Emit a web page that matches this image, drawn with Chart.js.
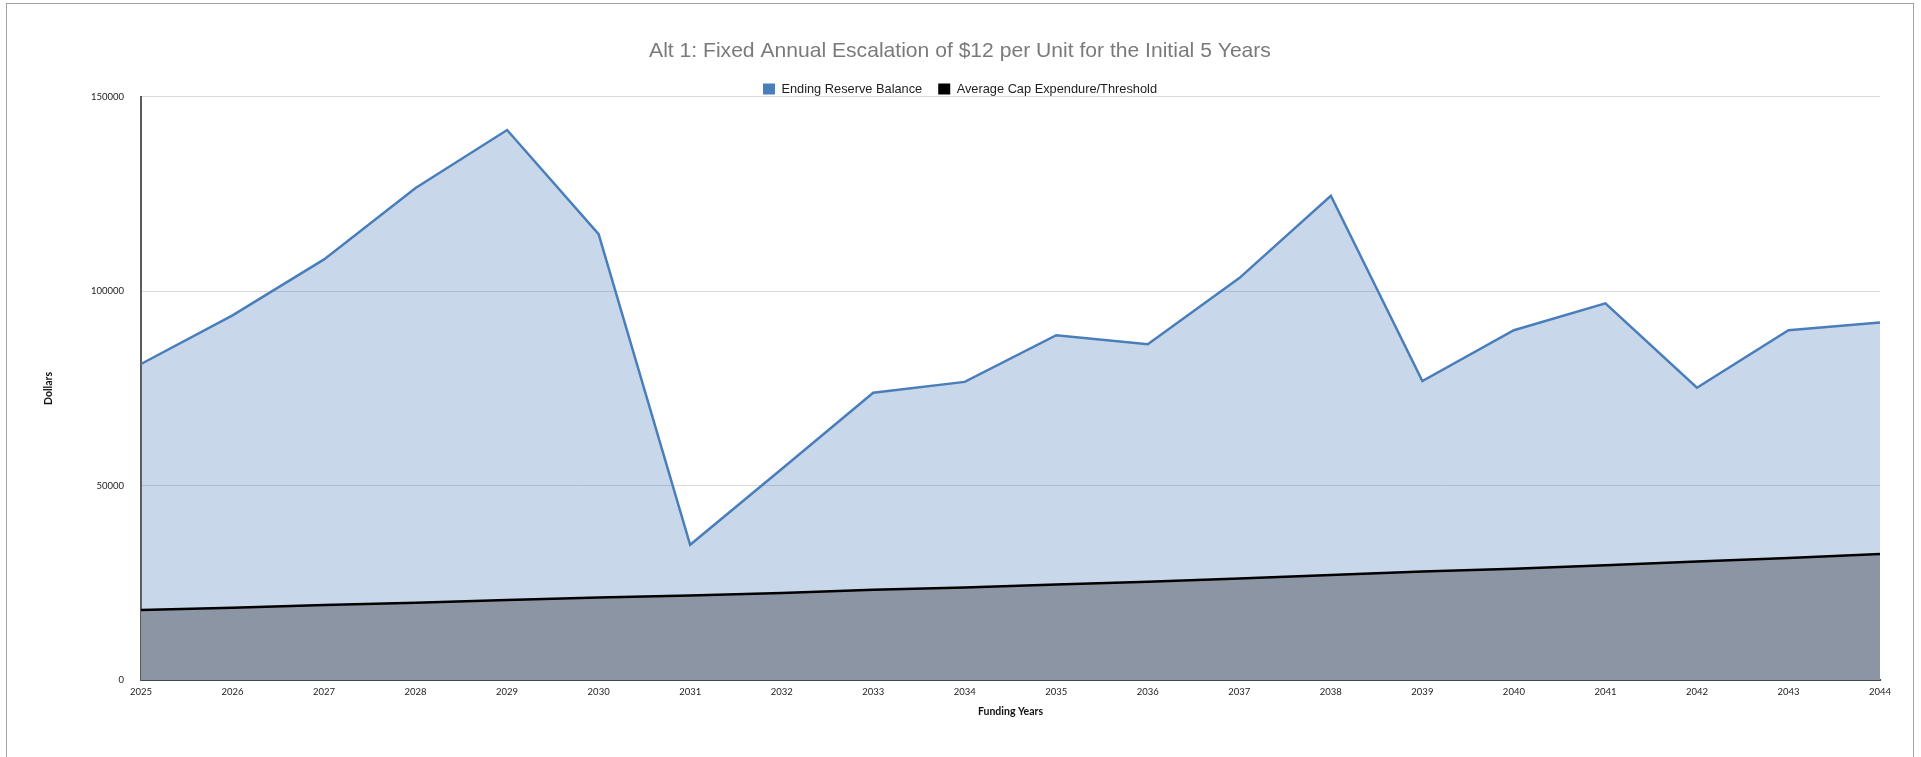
<!DOCTYPE html>
<html>
<head>
<meta charset="utf-8">
<script src="https://cdn.jsdelivr.net/npm/chart.js@4.4.1/dist/chart.umd.min.js"></script>
<style>
    html, body { margin: 0; padding: 0; background: #fff; }
    #quadro { position: absolute; left: 0; top: 0; width: 1921px; height: 757px; }
    #moldura {
        position: absolute; left: 6px; top: 3px; width: 1908px; height: 800px;
        border: 1.5px solid #a3a3a3; box-sizing: border-box;
    }
</style>
</head>
<body>
<div id="moldura"></div>
<div id="quadro"><canvas id="grafico" width="1921" height="757"></canvas></div>
<script>
    var anos = ['2025', '2026', '2027', '2028', '2029', '2030', '2031', '2032', '2033', '2034',
        '2035', '2036', '2037', '2038', '2039', '2040', '2041', '2042', '2043', '2044'];

    var saldoFinal = [81300, 93800, 108200, 126600, 141500, 114700, 34800, 54300, 73900, 76700,
        88700, 86400, 103400, 124600, 76900, 90000, 96900, 75200, 90000, 92000];

    var limiteMedio = [18000, 18600, 19300, 19900, 20600, 21200, 21750, 22400, 23200, 23800,
        24600, 25300, 26100, 27000, 27900, 28600, 29500, 30500, 31400, 32400];

    var ticksY = [0, 50000, 100000, 150000];

    var ctx = document.getElementById('grafico').getContext('2d');

    new Chart(ctx, {
        type: 'line',
        data: {
            labels: anos,
            datasets: [{
                label: 'Ending Reserve Balance',
                data: saldoFinal,
                borderColor: '#4a7ebb',
                backgroundColor: 'rgba(74, 126, 187, 0.3)',
                borderWidth: 2.5,
                fill: 'origin',
                tension: 0,
                pointRadius: 0,
                order: 1
            }, {
                label: 'Average Cap Expendure/Threshold',
                data: limiteMedio,
                borderColor: '#000000',
                backgroundColor: '#8c95a4',
                borderWidth: 2.5,
                fill: 'origin',
                tension: 0,
                pointRadius: 0,
                order: 0
            }]
        },
        options: {
            responsive: false,
            animation: false,
            devicePixelRatio: 1,
            layout: { padding: { left: 40, right: 41, top: 0, bottom: 0 } },
            plugins: {
                title: {
                    display: true,
                    text: 'Alt 1: Fixed Annual Escalation of $12 per Unit for the Initial 5 Years',
                    color: '#7a7a7a',
                    font: { family: "'Liberation Sans', Arial, sans-serif", size: 21.1, weight: 'normal' },
                    padding: { top: 38.9, bottom: 2.5 }
                },
                legend: {
                    display: true,
                    position: 'top',
                    maxHeight: 30.25,
                    labels: {
                        color: '#1e1e1e',
                        font: { family: "'Liberation Sans', Arial, sans-serif", size: 12.8 },
                        boxWidth: 12,
                        boxHeight: 11,
                        padding: 16,
                        sort: function (a, b) { return a.datasetIndex - b.datasetIndex; },
                        generateLabels: function (chart) {
                            var itens = Chart.defaults.plugins.legend.labels.generateLabels(chart);
                            itens.forEach(function (item) {
                                item.fillStyle = item.strokeStyle;
                                item.lineWidth = 0;
                            });
                            return itens;
                        }
                    }
                },
                tooltip: { enabled: false }
            },
            scales: {
                x: {
                    offset: false,
                    grid: { display: false, drawTicks: false },
                    border: { display: true, color: '#3f4756', width: 2 },
                    ticks: {
                        color: '#222',
                        font: { family: 'Lato, sans-serif', size: 9.5 },
                        padding: 6,
                        maxRotation: 0,
                        autoSkip: false
                    },
                    title: {
                        display: true,
                        text: 'Funding Years',
                        color: '#111',
                        font: { family: 'Lato, sans-serif', size: 10.5, weight: 'bold' },
                        padding: { top: 0, bottom: 39 }
                    },
                    afterFit: function (scale) { scale.height = 77; }
                },
                y: {
                    min: 0,
                    max: 150000,
                    afterBuildTicks: function (scale) {
                        scale.ticks = ticksY.map(function (v) { return { value: v }; });
                    },
                    grid: { color: '#d9d9d9', lineWidth: 1, drawTicks: false },
                    border: { display: true, color: '#5a5a5a', width: 2 },
                    ticks: {
                        color: '#222',
                        font: { family: 'Lato, sans-serif', size: 9.5 },
                        padding: 17,
                        callback: function (v) { return String(v); }
                    },
                    title: {
                        display: true,
                        text: 'Dollars',
                        color: '#111',
                        font: { family: 'Lato, sans-serif', size: 10.5, weight: 'bold' },
                        padding: { top: 2, bottom: 0 }
                    },
                    afterFit: function (scale) { scale.width = 101; }
                }
            }
        }
    });
</script>
</body>
</html>
